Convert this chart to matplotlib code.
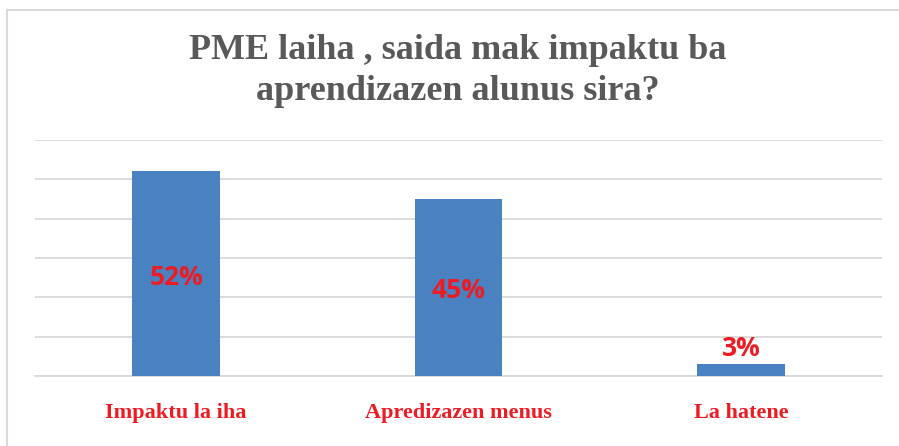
import matplotlib.pyplot as plt
from matplotlib.patches import Rectangle

# dados
categorias = ['Impaktu la iha', 'Apredizazen menus', 'La hatene']
valores = [52, 45, 3]
etiketa = ['52%', '45%', '3%']
titulu = 'PME laiha , saida mak impaktu ba\naprendizazen alunus sira?'

fig = plt.figure(figsize=(8.99, 4.46), dpi=100)
ax = fig.add_axes([35/899, 70/446, 847/899, 236/446])

x = range(len(categorias))
ax.bar(x, valores, width=0.31, color='#4A81C0', zorder=3)

ax.set_xlim(-0.5, 2.5)
ax.set_ylim(0, 60)
ax.set_yticks(range(0, 61, 10))
ax.yaxis.grid(True, color='#D9D9D9', linewidth=1.3, zorder=0)
ax.tick_params(axis='y', left=False, labelleft=False)
ax.tick_params(axis='x', bottom=False, pad=16)
ax.set_xticks(list(x))
ax.set_xticklabels(categorias, fontfamily='Liberation Serif', fontweight='bold',
                   fontsize=16, color='#ED1C24')
for s in ['top', 'right', 'left']:
    ax.spines[s].set_visible(False)
ax.spines['bottom'].set_color('#D9D9D9')
ax.spines['bottom'].set_linewidth(1.3)

# etiketa valor
for i, v in enumerate(valores):
    if v > 10:
        pos, dy = v / 2, -2.5
    else:
        pos, dy = v, 11.5
    ax.annotate(etiketa[i], (i, pos), xytext=(0, dy), textcoords='offset points',
                ha='center', va='center', fontsize=19, fontweight='bold',
                fontfamily='Open Sans', color='#ED1C24', zorder=4)

fig.text(458/899, 1 - 71/446, titulu, ha='center', va='center', fontsize=26,
         fontweight='bold', fontfamily='Liberation Serif', color='#595959',
         linespacing=1.3)

# moldura
fig.patches.append(Rectangle((7/899, -0.1), 1.0, (436/446) + 0.1, transform=fig.transFigure,
                             fill=False, edgecolor='#D9D9D9', linewidth=1.5))

fig.savefig('out.png', dpi=100)
